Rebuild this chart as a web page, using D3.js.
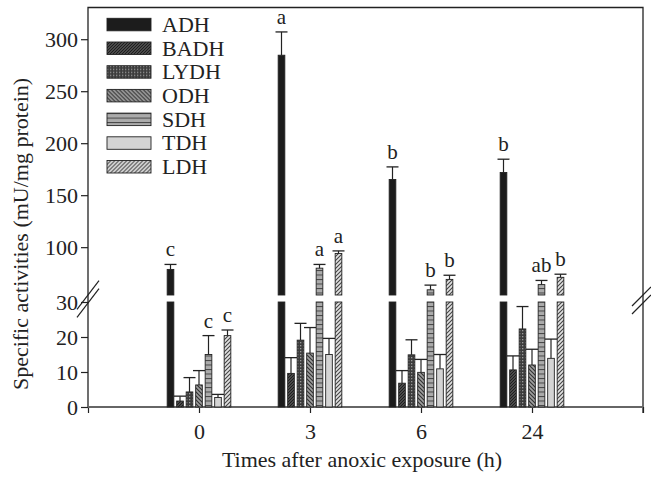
<!DOCTYPE html>
<html>
<head>
<meta charset="utf-8">
<script src="https://cdn.jsdelivr.net/npm/d3@7"></script>
<style>
  body { margin: 0; background: #fff; }
  svg { display: block; font-family: 'Liberation Serif', 'Times New Roman', serif; }
</style>
</head>
<body>
<div id="chart"></div>
<script>
// categories
const groups = ['0', '3', '6', '24']
const series = ['ADH', 'BADH', 'LYDH', 'ODH', 'SDH', 'TDH', 'LDH']

// means (mU/mg protein), one entry per group
const ADH = [78.6, 284.6, 165.1, 171.8]
const BADH = [1.7, 9.6, 6.8, 10.6]
const LYDH = [4.3, 19.1, 14.9, 22.3]
const ODH = [6.3, 15.4, 9.9, 12.0]
const SDH = [15.0, 79.8, 59.0, 64.0]
const TDH = [2.7, 15.0, 10.9, 13.9]
const LDH = [20.4, 93.9, 69.0, 71.0]

// error bars (+ only)
const ADHerr = [4.8, 22.4, 12.1, 12.8]
const BADHerr = [1.4, 4.5, 3.6, 4.0]
const LYDHerr = [4.1, 4.8, 4.3, 6.4]
const ODHerr = [4.1, 7.3, 3.7, 4.5]
const SDHerr = [5.4, 3.6, 4.5, 4.0]
const TDHerr = [0.9, 4.6, 4.1, 5.5]
const LDHerr = [1.6, 2.5, 4.0, 3.0]

// significance letters
const ADHsig = ['c', 'a', 'b', 'b']
const SDHsig = ['c', 'a', 'b', 'ab']
const LDHsig = ['c', 'a', 'b', 'b']

// tick labels
const upperTicks = [100, 150, 200, 250, 300]
const lowerTicks = [0, 10, 20, 30]

const values = { ADH, BADH, LYDH, ODH, SDH, TDH, LDH }
const errors = {
  ADH: ADHerr, BADH: BADHerr, LYDH: LYDHerr, ODH: ODHerr, SDH: SDHerr, TDH: TDHerr, LDH: LDHerr
}
const letters = { ADH: ADHsig, SDH: SDHsig, LDH: LDHsig }

const width = 651
const height = 480
const frame = { left: 88, right: 643, top: 7.5 }
const fontSize = 22

const svg = d3.select('#chart')
  .append('svg')
  .attr('width', width)
  .attr('height', height)

// fill patterns
const defs = svg.append('defs')
const hatch = (id, bg, fg, size, d, sw) => {
  const p = defs.append('pattern')
    .attr('id', id)
    .attr('patternUnits', 'userSpaceOnUse')
    .attr('width', size)
    .attr('height', size)
  p.append('rect').attr('width', size).attr('height', size).attr('fill', bg)
  p.append('path').attr('d', d).attr('stroke', fg).attr('stroke-width', sw).attr('fill', 'none')
}
hatch('p-badh', '#4a4a4a', '#1e1e1e', 3, 'M-1,1 l2,-2 M0,3 l3,-3 M2,4 l2,-2', 1)
hatch('p-odh', '#a0a0a0', '#333', 4, 'M-1,3 l2,2 M0,0 l4,4 M3,-1 l2,2', 1.2)
hatch('p-ldh', '#e2e2e2', '#444', 4, 'M-1,1 l2,-2 M0,4 l4,-4 M3,5 l2,-2', 1.1)
hatch('p-sdh', '#ababab', '#444', 4.5, 'M0,0.5 h4.5', 1)
const dots = defs.append('pattern')
  .attr('id', 'p-lydh')
  .attr('patternUnits', 'userSpaceOnUse')
  .attr('width', 3)
  .attr('height', 3)
dots.append('rect').attr('width', 3).attr('height', 3).attr('fill', '#3c3c3c')
dots.append('rect').attr('x', 0).attr('y', 0).attr('width', 1.3).attr('height', 1.3).attr('fill', '#9a9a9a')

const fills = {
  ADH: '#1c1c1c',
  BADH: 'url(#p-badh)',
  LYDH: 'url(#p-lydh)',
  ODH: 'url(#p-odh)',
  SDH: 'url(#p-sdh)',
  TDH: '#d4d4d4',
  LDH: 'url(#p-ldh)'
}

// scales
const x = d3.scaleLinear().domain([0, 5]).range([frame.left, frame.right])
const inner = d3.scaleBand()
  .domain(series)
  .range([-33.25, 33.25])
  .paddingInner(0.3)
  .paddingOuter(0.15)
const yLow = d3.scaleLinear().domain([0, 30]).range([407, 302])
const yHigh = d3.scaleLinear().domain([54, 330.5]).range([295, frame.top])
const yVal = v => (v <= 30 ? yLow(v) : yHigh(v))

// axes
const styleAxis = g => {
  g.select('.domain').remove()
  g.selectAll('.tick line').attr('stroke', '#222').attr('stroke-width', 1.2)
  g.selectAll('.tick text')
    .attr('fill', '#222')
    .attr('font-size', fontSize)
    .attr('font-family', 'Liberation Serif, serif')
}

svg.append('g')
  .attr('transform', `translate(${frame.left},0)`)
  .call(d3.axisLeft(yHigh).tickValues(upperTicks).tickSize(7).tickPadding(3))
  .call(styleAxis)

svg.append('g')
  .attr('transform', `translate(${frame.left},0)`)
  .call(d3.axisLeft(yLow).tickValues(lowerTicks).tickSize(7).tickPadding(3))
  .call(styleAxis)

svg.append('g')
  .attr('transform', `translate(0,${yLow(0)})`)
  .call(d3.axisBottom(x)
    .tickValues([0, 1, 2, 3, 4, 5])
    .tickSize(6)
    .tickPadding(10)
    .tickFormat(i => (i >= 1 && i <= 4 ? groups[i - 1] : '')))
  .call(styleAxis)

// frame
svg.append('path')
  .attr('d', `M${frame.left},${yLow(0)} V${frame.top} H${frame.right} V${yLow(0) + 6}`)
  .attr('fill', 'none')
  .attr('stroke', '#222')
  .attr('stroke-width', 1.3)

svg.append('line')
  .attr('x1', frame.left)
  .attr('x2', frame.right)
  .attr('y1', yLow(0))
  .attr('y2', yLow(0))
  .attr('stroke', '#666')
  .attr('stroke-width', 2)

// axis breaks
const breakMarks = (cx, slope, x0, x1) => {
  [295, 303].forEach(cy => {
    svg.append('line')
      .attr('x1', cx - x0)
      .attr('y1', cy + x0 * slope)
      .attr('x2', cx + x1)
      .attr('y2', cy - x1 * slope)
      .attr('stroke', '#222')
      .attr('stroke-width', 1.2)
  })
}
breakMarks(frame.left, 1.3, 11, 11)
breakMarks(frame.right, 1, 11, 8)

// bars
const rows = groups.flatMap((g, gi) => series.map(s => ({
  g,
  s,
  cx: x(gi + 1) + inner(s) + inner.bandwidth() / 2,
  v: values[s][gi],
  e: errors[s][gi],
  label: letters[s] ? letters[s][gi] : null
})))

const bw = inner.bandwidth()

const bars = svg.selectAll('.bar')
  .data(rows)
  .enter()
  .append('g')
  .attr('class', 'bar')

bars.append('rect')
  .attr('x', d => d.cx - bw / 2)
  .attr('y', d => yLow(Math.min(d.v, 30)))
  .attr('width', bw)
  .attr('height', d => yLow(0) - yLow(Math.min(d.v, 30)))
  .attr('fill', d => fills[d.s])
  .attr('stroke', '#222')
  .attr('stroke-width', 0.9)

bars.filter(d => d.v > 30)
  .append('rect')
  .attr('x', d => d.cx - bw / 2)
  .attr('y', d => yHigh(d.v))
  .attr('width', bw)
  .attr('height', d => yHigh(54) - yHigh(d.v))
  .attr('fill', d => fills[d.s])
  .attr('stroke', '#222')
  .attr('stroke-width', 0.9)

bars.append('line')
  .attr('x1', d => d.cx)
  .attr('x2', d => d.cx)
  .attr('y1', d => yVal(d.v))
  .attr('y2', d => yVal(d.v + d.e))
  .attr('stroke', '#222')
  .attr('stroke-width', 1.2)

bars.append('line')
  .attr('x1', d => d.cx - 6)
  .attr('x2', d => d.cx + 6)
  .attr('y1', d => yVal(d.v + d.e))
  .attr('y2', d => yVal(d.v + d.e))
  .attr('stroke', '#222')
  .attr('stroke-width', 1.3)

bars.filter(d => d.label)
  .append('text')
  .text(d => d.label)
  .attr('x', d => d.cx)
  .attr('y', d => yVal(d.v + d.e) - 8)
  .attr('text-anchor', 'middle')
  .attr('font-size', 21)
  .attr('fill', '#222')

// legend
const legend = svg.selectAll('.legend')
  .data(series)
  .enter()
  .append('g')
  .attr('class', 'legend')
  .attr('transform', (d, i) => `translate(107,${18.3 + i * 23.7})`)

legend.append('rect')
  .attr('width', 44)
  .attr('height', 12.5)
  .attr('fill', d => fills[d])
  .attr('stroke', '#222')
  .attr('stroke-width', 0.9)

legend.append('text')
  .text(d => d)
  .attr('x', 55)
  .attr('y', 13.5)
  .attr('font-size', fontSize)
  .attr('fill', '#222')

// axis titles
svg.append('text')
  .text('Specific activities (mU/mg protein)')
  .attr('transform', 'translate(28,234) rotate(-90)')
  .attr('text-anchor', 'middle')
  .attr('font-size', fontSize)
  .attr('fill', '#222')

svg.append('text')
  .text('Times after anoxic exposure (h)')
  .attr('x', 362)
  .attr('y', 467)
  .attr('text-anchor', 'middle')
  .attr('font-size', fontSize)
  .attr('fill', '#222')
</script>
</body>
</html>
